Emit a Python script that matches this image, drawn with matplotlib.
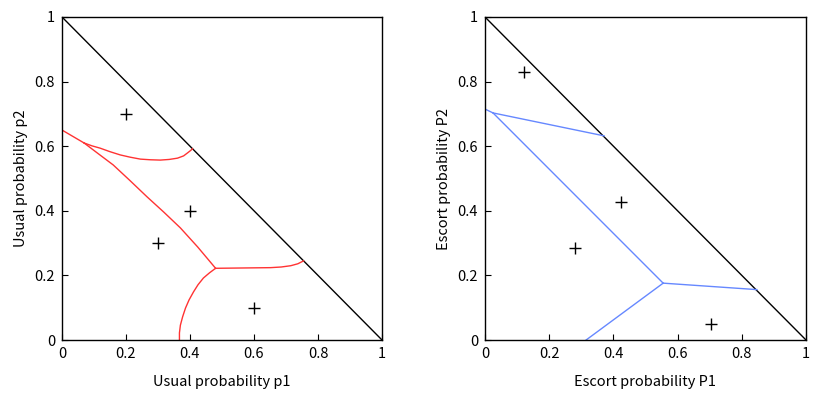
import numpy as np
import matplotlib.pyplot as plt

plt.rcParams['font.family'] = ['Noto Sans CJK JP', 'DejaVu Sans']
plt.rcParams['font.size'] = 10.5

# usual probability panel: sample points and boundary curves
usual_pts_x = [0.2, 0.4, 0.3, 0.6]
usual_pts_y = [0.7, 0.4, 0.3, 0.1]

u_edge_x = [0.0, 0.069]
u_edge_y = [0.65, 0.61]
u_top_x = [0.069, 0.094, 0.119, 0.150, 0.182, 0.213, 0.245, 0.276, 0.307, 0.335, 0.361, 0.380, 0.392, 0.401, 0.408]
u_top_y = [0.61, 0.601, 0.594, 0.583, 0.573, 0.566, 0.560, 0.558, 0.557, 0.559, 0.563, 0.570, 0.579, 0.586, 0.592]
u_mid_x = [0.069, 0.113, 0.160, 0.212, 0.266, 0.318, 0.370, 0.424, 0.480]
u_mid_y = [0.61, 0.577, 0.542, 0.494, 0.443, 0.396, 0.347, 0.288, 0.222]
u_right_x = [0.480, 0.524, 0.567, 0.610, 0.652, 0.685, 0.715, 0.737, 0.755]
u_right_y = [0.222, 0.2225, 0.223, 0.2235, 0.224, 0.226, 0.230, 0.236, 0.245]
u_bot_x = [0.480, 0.461, 0.442, 0.425, 0.411, 0.397, 0.386, 0.377, 0.370, 0.367, 0.367]
u_bot_y = [0.222, 0.208, 0.192, 0.171, 0.149, 0.124, 0.099, 0.072, 0.046, 0.022, 0.0]

# escort probability panel
escort_pts_x = [0.121, 0.424, 0.28, 0.704]
escort_pts_y = [0.83, 0.427, 0.285, 0.05]

e_edge_x = [0.0, 0.025]
e_edge_y = [0.715, 0.703]
e_top_x = [0.025, 0.371]
e_top_y = [0.703, 0.632]
e_mid_x = [0.025, 0.555]
e_mid_y = [0.703, 0.176]
e_right_x = [0.555, 0.847]
e_right_y = [0.176, 0.156]
e_bot_x = [0.555, 0.315]
e_bot_y = [0.176, 0.0]

ticks = [0, 0.2, 0.4, 0.6, 0.8, 1]
tick_labels = ['0', '0.2', '0.4', '0.6', '0.8', '1']

fig = plt.figure(figsize=(8.17, 3.93), dpi=100)
ax1 = fig.add_axes([62/817, 53/393, 320/817, 323/393])
ax2 = fig.add_axes([485/817, 53/393, 321/817, 323/393])

red = '#ff3333'
blue = '#6688ff'

ax1.plot([0, 1], [1, 0], color='black', lw=1)
for xs, ys in [(u_edge_x, u_edge_y), (u_top_x, u_top_y), (u_mid_x, u_mid_y),
               (u_right_x, u_right_y), (u_bot_x, u_bot_y)]:
    ax1.plot(xs, ys, color=red, lw=1)
ax1.plot(usual_pts_x, usual_pts_y, '+', color='black', ms=8, mew=1)
ax1.set_xlabel('Usual probability p1', labelpad=10)
ax1.set_ylabel('Usual probability p2', labelpad=5)

ax2.plot([0, 1], [1, 0], color='black', lw=1)
for xs, ys in [(e_edge_x, e_edge_y), (e_top_x, e_top_y), (e_mid_x, e_mid_y),
               (e_right_x, e_right_y), (e_bot_x, e_bot_y)]:
    ax2.plot(xs, ys, color=blue, lw=1)
ax2.plot(escort_pts_x, escort_pts_y, '+', color='black', ms=8, mew=1)
ax2.set_xlabel('Escort probability P1', labelpad=10)
ax2.set_ylabel('Escort probability P2', labelpad=5)

for ax in (ax1, ax2):
    ax.set_xlim(0, 1)
    ax.set_ylim(0, 1)
    ax.set_xticks(ticks)
    ax.set_xticklabels(tick_labels)
    ax.set_yticks(ticks)
    ax.set_yticklabels(tick_labels)
    for s in ax.spines.values():
        s.set_linewidth(1)
    ax.tick_params(direction='in', length=4, width=0.8, pad=5)

fig.savefig('out.png', dpi=100)
